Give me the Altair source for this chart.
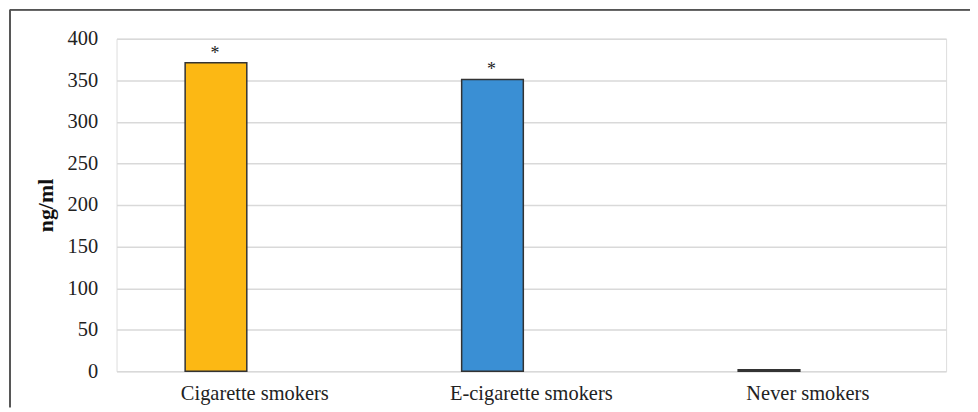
import altair as alt
import pandas as pd

categories = ["Cigarette smokers", "E-cigarette smokers", "Never smokers"]
values = [371, 351, 2]
marks = ["*", "*", ""]
colors = ["#FCB814", "#3A8FD4", "#FCB814"]

df = pd.DataFrame({"group": categories, "value": values, "mark": marks})

FONT = "Liberation Serif"
SHIFT = -39

x = alt.X("group:N", sort=categories, title=None,
          scale=alt.Scale(paddingInner=0.777, paddingOuter=0.3885),
          axis=alt.Axis(labelAngle=0, labelFontSize=20.5, labelFont=FONT, labelColor="#222",
                        labelPadding=12, ticks=False, domain=False, grid=False))

bars = alt.Chart(df).mark_bar(stroke="#333333", strokeWidth=1.5, xOffset=SHIFT).encode(
    x=x,
    y=alt.Y("value:Q", title="ng/ml",
            scale=alt.Scale(domain=[0, 400]),
            axis=alt.Axis(values=[0, 50, 100, 150, 200, 250, 300, 350, 400],
                          labelFontSize=20.5, labelFont=FONT, labelColor="#222",
                          labelPadding=19, ticks=False, domain=False,
                          gridColor="#d9d9d9", gridWidth=1.5,
                          titleFont=FONT, titleFontSize=22, titleFontWeight="bold",
                          titleColor="#111", titlePadding=10)),
    color=alt.Color("group:N", scale=alt.Scale(domain=categories, range=colors), legend=None),
)

stars = alt.Chart(df).mark_text(font=FONT, fontSize=18, baseline="alphabetic", dy=-4,
                                xOffset=SHIFT - 1, color="#222").encode(
    x=alt.X("group:N", sort=categories),
    y=alt.Y("value:Q"),
    text="mark:N",
)

frame_top = alt.Chart(df).mark_rule(color="#555555", strokeWidth=1.5).encode(
    x=alt.value(-107), x2=alt.value(857), y=alt.value(-29))
frame_left = alt.Chart(df).mark_rule(color="#555555", strokeWidth=1.5).encode(
    x=alt.value(-107), y=alt.value(-29), y2=alt.value(370))

chart = alt.layer(bars, stars, frame_top, frame_left).properties(
    width=833, height=334,
    autosize=alt.AutoSizeParams(type="none"),
    padding={"left": 109, "top": 30, "right": 24, "bottom": 36},
).configure_view(stroke=None).configure(background="white")

chart.save("out.html", embed_options={"renderer": "svg", "actions": False})
